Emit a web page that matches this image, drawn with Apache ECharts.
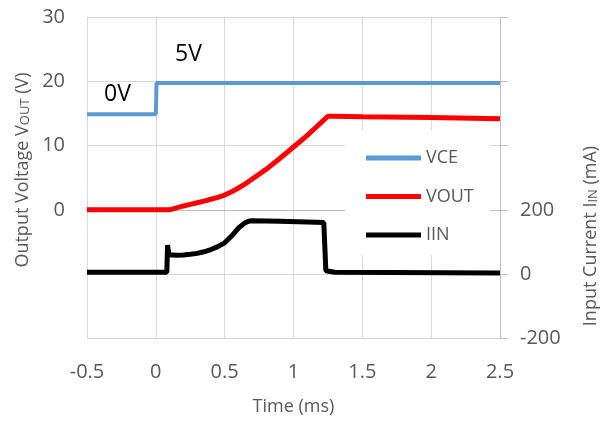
<!DOCTYPE html>
<html><head><meta charset="utf-8">
<script src="https://cdn.jsdelivr.net/npm/echarts@6/dist/echarts.min.js"></script>
<style>html,body{margin:0;padding:0;background:#fff}#c{width:601px;height:421px}</style>
</head><body><div id="c"></div>
<script>
// Time (ms) and values
const vceTime = [-0.5, 0.0, 0.005, 2.5];
const vceVal  = [14.9, 14.9, 19.8, 19.8];

const voutTime = [-0.5, 0.1, 0.15, 0.2, 0.25, 0.3, 0.35, 0.4, 0.45, 0.5, 0.55, 0.6, 0.65, 0.7, 0.75, 0.8, 0.85, 0.9, 0.95, 1.0, 1.05, 1.1, 1.15, 1.2, 1.25, 1.3, 1.5, 2.0, 2.5];
const voutVal  = [0.0, 0.0, 0.3, 0.6, 0.85, 1.1, 1.35, 1.65, 1.95, 2.3, 2.8, 3.4, 4.05, 4.8, 5.55, 6.3, 7.15, 8.0, 8.9, 9.8, 10.7, 11.6, 12.6, 13.6, 14.6, 14.6, 14.5, 14.4, 14.2];

const iinTime = [-0.5, 0.08, 0.085, 0.095, 0.15, 0.2, 0.25, 0.3, 0.35, 0.4, 0.45, 0.5, 0.55, 0.6, 0.65, 0.68, 0.7, 0.9, 1.1, 1.22, 1.235, 1.3, 2.5];
const iinVal  = [5, 5, 90, 60, 58, 59, 61, 64, 69, 76, 85, 97, 118, 143, 160, 165, 166, 164, 162, 160, 10, 5, 3];

const xTicks = { min: -0.5, max: 2.5, interval: 0.5 };
const leftTicks = { min: -20, max: 30, interval: 10 };
const rightTicks = { min: -200, max: 800, interval: 200 };

const pair = (t, v) => t.map((x, i) => [x, v[i]]);
const FONT = '"Open Sans", sans-serif';
const GRAY = '#595959';

const chart = echarts.init(document.getElementById('c'), null, { renderer: 'canvas' });
chart.setOption({
  animation: false,
  grid: { left: 87, right: 101, top: 17.5, bottom: 81 },
  xAxis: {
    type: 'value', min: xTicks.min, max: xTicks.max, interval: xTicks.interval,
    axisLine: { show: true, lineStyle: { color: '#BFBFBF', width: 1 } },
    axisTick: { show: false },
    axisLabel: { color: GRAY, fontFamily: FONT, fontSize: 20, margin: 24 },
    splitLine: { show: true, lineStyle: { color: '#D9D9D9', width: 1 } },
    name: 'Time (ms)', nameLocation: 'middle', nameGap: 60,
    nameTextStyle: { color: GRAY, fontFamily: FONT, fontSize: 18 }
  },
  yAxis: [
    {
      type: 'value', min: leftTicks.min, max: leftTicks.max, interval: leftTicks.interval,
      axisLine: { show: false }, axisTick: { show: false },
      axisLabel: { color: GRAY, fontFamily: FONT, fontSize: 20, margin: 22,
        formatter: v => v < 0 ? '' : String(v) },
      splitLine: { show: true, lineStyle: { color: '#D9D9D9', width: 1 } }
    },
    {
      type: 'value', min: rightTicks.min, max: rightTicks.max, interval: rightTicks.interval,
      position: 'right',
      axisLine: { show: true, lineStyle: { color: '#BFBFBF', width: 1 } },
      axisTick: { show: true, length: 8, lineStyle: { color: '#BFBFBF' } },
      axisLabel: { color: GRAY, fontFamily: FONT, fontSize: 20, margin: 20,
        formatter: v => v > 200 ? '' : String(v) },
      splitLine: { show: false }
    }
  ],
  legend: {
    orient: 'vertical', left: 345, top: 130,
    backgroundColor: '#ffffff',
    padding: [18, 16, 10, 21],
    itemGap: 18.5, itemWidth: 55, itemHeight: 5, icon: 'rect',
    textStyle: { color: GRAY, fontFamily: FONT, fontSize: 18, lineHeight: 20 },
    data: ['VCE', 'VOUT', 'IIN']
  },
  graphic: [
    { type: 'text', left: 104, top: 83, style: { text: '0V', fontFamily: FONT, fontSize: 23, fill: '#000' } },
    { type: 'text', left: 175, top: 43, style: { text: '5V', fontFamily: FONT, fontSize: 23, fill: '#000' } },
    { type: 'text', x: 22, y: 170, rotation: Math.PI / 2,
      style: { text: '{a|Output Voltage V}{s|OUT}{a| (V)}', align: 'center', verticalAlign: 'middle',
        rich: { a: { fontFamily: FONT, fontSize: 18, fill: GRAY, color: GRAY, verticalAlign: 'bottom', lineHeight: 20 },
                s: { fontFamily: FONT, fontSize: 13, fill: GRAY, color: GRAY, verticalAlign: 'bottom', lineHeight: 18 } } } },
    { type: 'text', x: 590, y: 236, rotation: Math.PI / 2,
      style: { text: '{a|Input Current I}{s|IN}{a| (mA)}', align: 'center', verticalAlign: 'middle',
        rich: { a: { fontFamily: FONT, fontSize: 18, fill: GRAY, color: GRAY, verticalAlign: 'bottom', lineHeight: 20 },
                s: { fontFamily: FONT, fontSize: 13, fill: GRAY, color: GRAY, verticalAlign: 'bottom', lineHeight: 18 } } } }
  ],
  series: [
    { name: 'VCE', type: 'line', yAxisIndex: 0, showSymbol: false, data: pair(vceTime, vceVal),
      lineStyle: { color: '#5B9BD5', width: 4 }, itemStyle: { color: '#5B9BD5' } },
    { name: 'VOUT', type: 'line', yAxisIndex: 0, showSymbol: false, data: pair(voutTime, voutVal),
      lineStyle: { color: '#FF0000', width: 5 }, itemStyle: { color: '#FF0000' } },
    { name: 'IIN', type: 'line', yAxisIndex: 1, showSymbol: false, data: pair(iinTime, iinVal),
      lineStyle: { color: '#000000', width: 5 }, itemStyle: { color: '#000000' } }
  ]
});
</script></body></html>
